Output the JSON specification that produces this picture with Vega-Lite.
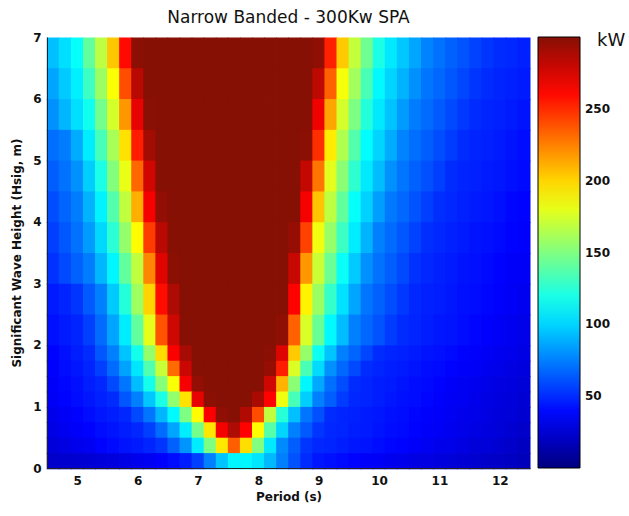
{
"$schema":"https://vega.github.io/schema/vega-lite/v6.json",
"width":483,"height":431,
"autosize":{"type":"none"},
"padding":{"left":47,"top":37,"right":99,"bottom":48},
"background":"white",
"title":{"text":"Narrow Banded - 300Kw SPA","fontSize":17,"fontWeight":"normal","font":"DejaVu Sans","color":"#111","frame":"group","anchor":"middle","offset":4},
"config":{"font":"DejaVu Sans","view":{"stroke":null}},
"datasets":{
"lab":[{"u":"kW"}],
"hi":[
{"t":4.5,"h":6.5,"v":94},{"t":4.7,"h":6.5,"v":103},{"t":4.9,"h":6.5,"v":114},{"t":5.1,"h":6.5,"v":141},{"t":5.3,"h":6.5,"v":168},{"t":5.5,"h":6.5,"v":204},{"t":5.7,"h":6.5,"v":260},{"t":5.9,"h":6.5,"v":298},{"t":6.1,"h":6.5,"v":300},{"t":6.3,"h":6.5,"v":300},{"t":6.5,"h":6.5,"v":300},{"t":6.7,"h":6.5,"v":300},{"t":6.9,"h":6.5,"v":300},{"t":7.1,"h":6.5,"v":300},{"t":7.3,"h":6.5,"v":300},{"t":7.5,"h":6.5,"v":300},{"t":7.7,"h":6.5,"v":300},{"t":7.9,"h":6.5,"v":300},{"t":8.1,"h":6.5,"v":300},{"t":8.3,"h":6.5,"v":300},{"t":8.5,"h":6.5,"v":300},{"t":8.7,"h":6.5,"v":300},{"t":8.9,"h":6.5,"v":297},{"t":9.1,"h":6.5,"v":253},{"t":9.3,"h":6.5,"v":203},{"t":9.5,"h":6.5,"v":170},{"t":9.7,"h":6.5,"v":145},{"t":9.9,"h":6.5,"v":120},{"t":10.1,"h":6.5,"v":106},{"t":10.3,"h":6.5,"v":96},{"t":10.5,"h":6.5,"v":86},{"t":10.7,"h":6.5,"v":76},{"t":10.9,"h":6.5,"v":71},{"t":11.1,"h":6.5,"v":66},{"t":11.3,"h":6.5,"v":62},{"t":11.5,"h":6.5,"v":57},{"t":11.7,"h":6.5,"v":53},{"t":11.9,"h":6.5,"v":50},{"t":12.1,"h":6.5,"v":49},{"t":12.3,"h":6.5,"v":47},
{"t":4.5,"h":6,"v":86},{"t":4.7,"h":6,"v":97},{"t":4.9,"h":6,"v":108},{"t":5.1,"h":6,"v":130},{"t":5.3,"h":6,"v":158},{"t":5.5,"h":6,"v":186},{"t":5.7,"h":6,"v":240},{"t":5.9,"h":6,"v":284},{"t":6.1,"h":6,"v":300},{"t":6.3,"h":6,"v":300},{"t":6.5,"h":6,"v":300},{"t":6.7,"h":6,"v":300},{"t":6.9,"h":6,"v":300},{"t":7.1,"h":6,"v":300},{"t":7.3,"h":6,"v":300},{"t":7.5,"h":6,"v":300},{"t":7.7,"h":6,"v":300},{"t":7.9,"h":6,"v":300},{"t":8.1,"h":6,"v":300},{"t":8.3,"h":6,"v":300},{"t":8.5,"h":6,"v":300},{"t":8.7,"h":6,"v":300},{"t":8.9,"h":6,"v":283},{"t":9.1,"h":6,"v":234},{"t":9.3,"h":6,"v":185},{"t":9.5,"h":6,"v":160},{"t":9.7,"h":6,"v":134},{"t":9.9,"h":6,"v":111},{"t":10.1,"h":6,"v":100},{"t":10.3,"h":6,"v":90},{"t":10.5,"h":6,"v":80},{"t":10.7,"h":6,"v":72},{"t":10.9,"h":6,"v":68},{"t":11.1,"h":6,"v":63},{"t":11.3,"h":6,"v":58},{"t":11.5,"h":6,"v":53},{"t":11.7,"h":6,"v":50},{"t":11.9,"h":6,"v":48},{"t":12.1,"h":6,"v":47},{"t":12.3,"h":6,"v":45},
{"t":4.5,"h":5.5,"v":80},{"t":4.7,"h":5.5,"v":91},{"t":4.9,"h":5.5,"v":103},{"t":5.1,"h":5.5,"v":117},{"t":5.3,"h":5.5,"v":146},{"t":5.5,"h":5.5,"v":175},{"t":5.7,"h":5.5,"v":218},{"t":5.9,"h":5.5,"v":270},{"t":6.1,"h":5.5,"v":299},{"t":6.3,"h":5.5,"v":300},{"t":6.5,"h":5.5,"v":300},{"t":6.7,"h":5.5,"v":300},{"t":6.9,"h":5.5,"v":300},{"t":7.1,"h":5.5,"v":300},{"t":7.3,"h":5.5,"v":300},{"t":7.5,"h":5.5,"v":300},{"t":7.7,"h":5.5,"v":300},{"t":7.9,"h":5.5,"v":300},{"t":8.1,"h":5.5,"v":300},{"t":8.3,"h":5.5,"v":300},{"t":8.5,"h":5.5,"v":300},{"t":8.7,"h":5.5,"v":300},{"t":8.9,"h":5.5,"v":267},{"t":9.1,"h":5.5,"v":214},{"t":9.3,"h":5.5,"v":175},{"t":9.5,"h":5.5,"v":149},{"t":9.7,"h":5.5,"v":123},{"t":9.9,"h":5.5,"v":106},{"t":10.1,"h":5.5,"v":95},{"t":10.3,"h":5.5,"v":83},{"t":10.5,"h":5.5,"v":74},{"t":10.7,"h":5.5,"v":69},{"t":10.9,"h":5.5,"v":64},{"t":11.1,"h":5.5,"v":59},{"t":11.3,"h":5.5,"v":54},{"t":11.5,"h":5.5,"v":50},{"t":11.7,"h":5.5,"v":48},{"t":11.9,"h":5.5,"v":47},{"t":12.1,"h":5.5,"v":45},{"t":12.3,"h":5.5,"v":43},
{"t":4.5,"h":5,"v":70},{"t":4.7,"h":5,"v":74},{"t":4.9,"h":5,"v":88},{"t":5.1,"h":5,"v":107},{"t":5.3,"h":5,"v":133},{"t":5.5,"h":5,"v":162},{"t":5.7,"h":5,"v":196},{"t":5.9,"h":5,"v":254},{"t":6.1,"h":5,"v":291},{"t":6.3,"h":5,"v":300},{"t":6.5,"h":5,"v":300},{"t":6.7,"h":5,"v":300},{"t":6.9,"h":5,"v":300},{"t":7.1,"h":5,"v":300},{"t":7.3,"h":5,"v":300},{"t":7.5,"h":5,"v":300},{"t":7.7,"h":5,"v":300},{"t":7.9,"h":5,"v":300},{"t":8.1,"h":5,"v":300},{"t":8.3,"h":5,"v":300},{"t":8.5,"h":5,"v":300},{"t":8.7,"h":5,"v":298},{"t":8.9,"h":5,"v":249},{"t":9.1,"h":5,"v":193},{"t":9.3,"h":5,"v":164},{"t":9.5,"h":5,"v":137},{"t":9.7,"h":5,"v":112},{"t":9.9,"h":5,"v":100},{"t":10.1,"h":5,"v":88},{"t":10.3,"h":5,"v":76},{"t":10.5,"h":5,"v":70},{"t":10.7,"h":5,"v":65},{"t":10.9,"h":5,"v":60},{"t":11.1,"h":5,"v":55},{"t":11.3,"h":5,"v":50},{"t":11.5,"h":5,"v":48},{"t":11.7,"h":5,"v":47},{"t":11.9,"h":5,"v":45},{"t":12.1,"h":5,"v":43},{"t":12.3,"h":5,"v":41},
{"t":4.5,"h":4.5,"v":65},{"t":4.7,"h":4.5,"v":71},{"t":4.9,"h":4.5,"v":80},{"t":5.1,"h":4.5,"v":98},{"t":5.3,"h":4.5,"v":120},{"t":5.5,"h":4.5,"v":151},{"t":5.7,"h":4.5,"v":181},{"t":5.9,"h":4.5,"v":232},{"t":6.1,"h":4.5,"v":277},{"t":6.3,"h":4.5,"v":300},{"t":6.5,"h":4.5,"v":300},{"t":6.7,"h":4.5,"v":300},{"t":6.9,"h":4.5,"v":300},{"t":7.1,"h":4.5,"v":300},{"t":7.3,"h":4.5,"v":300},{"t":7.5,"h":4.5,"v":300},{"t":7.7,"h":4.5,"v":300},{"t":7.9,"h":4.5,"v":300},{"t":8.1,"h":4.5,"v":300},{"t":8.3,"h":4.5,"v":300},{"t":8.5,"h":4.5,"v":300},{"t":8.7,"h":4.5,"v":281},{"t":8.9,"h":4.5,"v":228},{"t":9.1,"h":4.5,"v":179},{"t":9.3,"h":4.5,"v":153},{"t":9.5,"h":4.5,"v":126},{"t":9.7,"h":4.5,"v":106},{"t":9.9,"h":4.5,"v":93},{"t":10.1,"h":4.5,"v":80},{"t":10.3,"h":4.5,"v":72},{"t":10.5,"h":4.5,"v":66},{"t":10.7,"h":4.5,"v":61},{"t":10.9,"h":4.5,"v":56},{"t":11.1,"h":4.5,"v":50},{"t":11.3,"h":4.5,"v":48},{"t":11.5,"h":4.5,"v":47},{"t":11.7,"h":4.5,"v":45},{"t":11.9,"h":4.5,"v":44},{"t":12.1,"h":4.5,"v":42},{"t":12.3,"h":4.5,"v":40},
{"t":4.5,"h":4,"v":60},{"t":4.7,"h":4,"v":67},{"t":4.9,"h":4,"v":74},{"t":5.1,"h":4,"v":90},{"t":5.3,"h":4,"v":109},{"t":5.5,"h":4,"v":137},{"t":5.7,"h":4,"v":169},{"t":5.9,"h":4,"v":211},{"t":6.1,"h":4,"v":266},{"t":6.3,"h":4,"v":296},{"t":6.5,"h":4,"v":300},{"t":6.7,"h":4,"v":300},{"t":6.9,"h":4,"v":300},{"t":7.1,"h":4,"v":300},{"t":7.3,"h":4,"v":300},{"t":7.5,"h":4,"v":300},{"t":7.7,"h":4,"v":300},{"t":7.9,"h":4,"v":300},{"t":8.1,"h":4,"v":300},{"t":8.3,"h":4,"v":300},{"t":8.5,"h":4,"v":300},{"t":8.7,"h":4,"v":265},{"t":8.9,"h":4,"v":205},{"t":9.1,"h":4,"v":168},{"t":9.3,"h":4,"v":141},{"t":9.5,"h":4,"v":114},{"t":9.7,"h":4,"v":99},{"t":9.9,"h":4,"v":84},{"t":10.1,"h":4,"v":73},{"t":10.3,"h":4,"v":68},{"t":10.5,"h":4,"v":62},{"t":10.7,"h":4,"v":56},{"t":10.9,"h":4,"v":51},{"t":11.1,"h":4,"v":49},{"t":11.3,"h":4,"v":47},{"t":11.5,"h":4,"v":45},{"t":11.7,"h":4,"v":44},{"t":11.9,"h":4,"v":42},{"t":12.1,"h":4,"v":39},{"t":12.3,"h":4,"v":38},
{"t":4.5,"h":3.5,"v":56},{"t":4.7,"h":3.5,"v":63},{"t":4.9,"h":3.5,"v":71},{"t":5.1,"h":3.5,"v":83},{"t":5.3,"h":3.5,"v":101},{"t":5.5,"h":3.5,"v":125},{"t":5.7,"h":3.5,"v":156},{"t":5.9,"h":3.5,"v":188},{"t":6.1,"h":3.5,"v":245},{"t":6.3,"h":3.5,"v":284},{"t":6.5,"h":3.5,"v":300},{"t":6.7,"h":3.5,"v":300},{"t":6.9,"h":3.5,"v":300},{"t":7.1,"h":3.5,"v":300},{"t":7.3,"h":3.5,"v":300},{"t":7.5,"h":3.5,"v":300},{"t":7.7,"h":3.5,"v":300},{"t":7.9,"h":3.5,"v":300},{"t":8.1,"h":3.5,"v":300},{"t":8.3,"h":3.5,"v":300},{"t":8.5,"h":3.5,"v":295},{"t":8.7,"h":3.5,"v":243},{"t":8.9,"h":3.5,"v":183},{"t":9.1,"h":3.5,"v":157},{"t":9.3,"h":3.5,"v":130},{"t":9.5,"h":3.5,"v":107},{"t":9.7,"h":3.5,"v":90},{"t":9.9,"h":3.5,"v":75},{"t":10.1,"h":3.5,"v":69},{"t":10.3,"h":3.5,"v":63},{"t":10.5,"h":3.5,"v":57},{"t":10.7,"h":3.5,"v":51},{"t":10.9,"h":3.5,"v":49},{"t":11.1,"h":3.5,"v":47},{"t":11.3,"h":3.5,"v":45},{"t":11.5,"h":3.5,"v":43},{"t":11.7,"h":3.5,"v":42},{"t":11.9,"h":3.5,"v":40},{"t":12.1,"h":3.5,"v":38},{"t":12.3,"h":3.5,"v":37},
{"t":4.5,"h":3,"v":52},{"t":4.7,"h":3,"v":59},{"t":4.9,"h":3,"v":66},{"t":5.1,"h":3,"v":74},{"t":5.3,"h":3,"v":91},{"t":5.5,"h":3,"v":110},{"t":5.7,"h":3,"v":141},{"t":5.9,"h":3,"v":169},{"t":6.1,"h":3,"v":223},{"t":6.3,"h":3,"v":272},{"t":6.5,"h":3,"v":298},{"t":6.7,"h":3,"v":300},{"t":6.9,"h":3,"v":300},{"t":7.1,"h":3,"v":300},{"t":7.3,"h":3,"v":300},{"t":7.5,"h":3,"v":300},{"t":7.7,"h":3,"v":300},{"t":7.9,"h":3,"v":300},{"t":8.1,"h":3,"v":300},{"t":8.3,"h":3,"v":300},{"t":8.5,"h":3,"v":280},{"t":8.7,"h":3,"v":218},{"t":8.9,"h":3,"v":172},{"t":9.1,"h":3,"v":144},{"t":9.3,"h":3,"v":115},{"t":9.5,"h":3,"v":97},{"t":9.7,"h":3,"v":80},{"t":9.9,"h":3,"v":71},{"t":10.1,"h":3,"v":65},{"t":10.3,"h":3,"v":59},{"t":10.5,"h":3,"v":52},{"t":10.7,"h":3,"v":49},{"t":10.9,"h":3,"v":47},{"t":11.1,"h":3,"v":45},{"t":11.3,"h":3,"v":43},{"t":11.5,"h":3,"v":42},{"t":11.7,"h":3,"v":40},{"t":11.9,"h":3,"v":38},{"t":12.1,"h":3,"v":36},{"t":12.3,"h":3,"v":35},
{"t":4.5,"h":2.5,"v":45},{"t":4.7,"h":2.5,"v":48},{"t":4.9,"h":2.5,"v":53},{"t":5.1,"h":2.5,"v":64},{"t":5.3,"h":2.5,"v":75},{"t":5.5,"h":2.5,"v":97},{"t":5.7,"h":2.5,"v":123},{"t":5.9,"h":2.5,"v":159},{"t":6.1,"h":2.5,"v":200},{"t":6.3,"h":2.5,"v":259},{"t":6.5,"h":2.5,"v":288},{"t":6.7,"h":2.5,"v":300},{"t":6.9,"h":2.5,"v":300},{"t":7.1,"h":2.5,"v":300},{"t":7.3,"h":2.5,"v":300},{"t":7.5,"h":2.5,"v":300},{"t":7.7,"h":2.5,"v":300},{"t":7.9,"h":2.5,"v":300},{"t":8.1,"h":2.5,"v":300},{"t":8.3,"h":2.5,"v":300},{"t":8.5,"h":2.5,"v":262},{"t":8.7,"h":2.5,"v":191},{"t":8.9,"h":2.5,"v":158},{"t":9.1,"h":2.5,"v":128},{"t":9.3,"h":2.5,"v":104},{"t":9.5,"h":2.5,"v":86},{"t":9.7,"h":2.5,"v":72},{"t":9.9,"h":2.5,"v":66},{"t":10.1,"h":2.5,"v":60},{"t":10.3,"h":2.5,"v":54},{"t":10.5,"h":2.5,"v":49},{"t":10.7,"h":2.5,"v":47},{"t":10.9,"h":2.5,"v":46},{"t":11.1,"h":2.5,"v":44},{"t":11.3,"h":2.5,"v":42},{"t":11.5,"h":2.5,"v":41},{"t":11.7,"h":2.5,"v":39},{"t":11.9,"h":2.5,"v":37},{"t":12.1,"h":2.5,"v":35},{"t":12.3,"h":2.5,"v":33},
{"t":4.5,"h":2,"v":42},{"t":4.7,"h":2,"v":45},{"t":4.9,"h":2,"v":48},{"t":5.1,"h":2,"v":56},{"t":5.3,"h":2,"v":69},{"t":5.5,"h":2,"v":86},{"t":5.7,"h":2,"v":107},{"t":5.9,"h":2,"v":141},{"t":6.1,"h":2,"v":180},{"t":6.3,"h":2,"v":238},{"t":6.5,"h":2,"v":278},{"t":6.7,"h":2,"v":300},{"t":6.9,"h":2,"v":300},{"t":7.1,"h":2,"v":300},{"t":7.3,"h":2,"v":300},{"t":7.5,"h":2,"v":300},{"t":7.7,"h":2,"v":300},{"t":7.9,"h":2,"v":300},{"t":8.1,"h":2,"v":300},{"t":8.3,"h":2,"v":297},{"t":8.5,"h":2,"v":234},{"t":8.7,"h":2,"v":176},{"t":8.9,"h":2,"v":143},{"t":9.1,"h":2,"v":111},{"t":9.3,"h":2,"v":93},{"t":9.5,"h":2,"v":75},{"t":9.7,"h":2,"v":68},{"t":9.9,"h":2,"v":62},{"t":10.1,"h":2,"v":55},{"t":10.3,"h":2,"v":50},{"t":10.5,"h":2,"v":48},{"t":10.7,"h":2,"v":46},{"t":10.9,"h":2,"v":44},{"t":11.1,"h":2,"v":43},{"t":11.3,"h":2,"v":41},{"t":11.5,"h":2,"v":39},{"t":11.7,"h":2,"v":37},{"t":11.9,"h":2,"v":35},{"t":12.1,"h":2,"v":33},{"t":12.3,"h":2,"v":31}
],
"lo":[
{"t":4.5,"h":1.75,"v":38},{"t":4.7,"h":1.75,"v":42},{"t":4.9,"h":1.75,"v":46},{"t":5.1,"h":1.75,"v":50},{"t":5.3,"h":1.75,"v":63},{"t":5.5,"h":1.75,"v":75},{"t":5.7,"h":1.75,"v":95},{"t":5.9,"h":1.75,"v":118},{"t":6.1,"h":1.75,"v":156},{"t":6.3,"h":1.75,"v":198},{"t":6.5,"h":1.75,"v":264},{"t":6.7,"h":1.75,"v":290},{"t":6.9,"h":1.75,"v":300},{"t":7.1,"h":1.75,"v":300},{"t":7.3,"h":1.75,"v":300},{"t":7.5,"h":1.75,"v":300},{"t":7.7,"h":1.75,"v":300},{"t":7.9,"h":1.75,"v":300},{"t":8.1,"h":1.75,"v":298},{"t":8.3,"h":1.75,"v":273},{"t":8.5,"h":1.75,"v":203},{"t":8.7,"h":1.75,"v":156},{"t":8.9,"h":1.75,"v":116},{"t":9.1,"h":1.75,"v":95},{"t":9.3,"h":1.75,"v":75},{"t":9.5,"h":1.75,"v":67},{"t":9.7,"h":1.75,"v":58},{"t":9.9,"h":1.75,"v":50},{"t":10.1,"h":1.75,"v":48},{"t":10.3,"h":1.75,"v":47},{"t":10.5,"h":1.75,"v":45},{"t":10.7,"h":1.75,"v":43},{"t":10.9,"h":1.75,"v":42},{"t":11.1,"h":1.75,"v":40},{"t":11.3,"h":1.75,"v":38},{"t":11.5,"h":1.75,"v":37},{"t":11.7,"h":1.75,"v":35},{"t":11.9,"h":1.75,"v":33},{"t":12.1,"h":1.75,"v":32},{"t":12.3,"h":1.75,"v":30},
{"t":4.5,"h":1.5,"v":37},{"t":4.7,"h":1.5,"v":41},{"t":4.9,"h":1.5,"v":44},{"t":5.1,"h":1.5,"v":48},{"t":5.3,"h":1.5,"v":56},{"t":5.5,"h":1.5,"v":69},{"t":5.7,"h":1.5,"v":85},{"t":5.9,"h":1.5,"v":105},{"t":6.1,"h":1.5,"v":136},{"t":6.3,"h":1.5,"v":171},{"t":6.5,"h":1.5,"v":231},{"t":6.7,"h":1.5,"v":279},{"t":6.9,"h":1.5,"v":300},{"t":7.1,"h":1.5,"v":300},{"t":7.3,"h":1.5,"v":300},{"t":7.5,"h":1.5,"v":300},{"t":7.7,"h":1.5,"v":300},{"t":7.9,"h":1.5,"v":300},{"t":8.1,"h":1.5,"v":295},{"t":8.3,"h":1.5,"v":254},{"t":8.5,"h":1.5,"v":177},{"t":8.7,"h":1.5,"v":134},{"t":8.9,"h":1.5,"v":102},{"t":9.1,"h":1.5,"v":80},{"t":9.3,"h":1.5,"v":68},{"t":9.5,"h":1.5,"v":59},{"t":9.7,"h":1.5,"v":50},{"t":9.9,"h":1.5,"v":48},{"t":10.1,"h":1.5,"v":46},{"t":10.3,"h":1.5,"v":45},{"t":10.5,"h":1.5,"v":43},{"t":10.7,"h":1.5,"v":41},{"t":10.9,"h":1.5,"v":40},{"t":11.1,"h":1.5,"v":38},{"t":11.3,"h":1.5,"v":36},{"t":11.5,"h":1.5,"v":35},{"t":11.7,"h":1.5,"v":33},{"t":11.9,"h":1.5,"v":31},{"t":12.1,"h":1.5,"v":29},{"t":12.3,"h":1.5,"v":28},
{"t":4.5,"h":1.25,"v":36},{"t":4.7,"h":1.25,"v":39},{"t":4.9,"h":1.25,"v":42},{"t":5.1,"h":1.25,"v":46},{"t":5.3,"h":1.25,"v":49},{"t":5.5,"h":1.25,"v":59},{"t":5.7,"h":1.25,"v":72},{"t":5.9,"h":1.25,"v":93},{"t":6.1,"h":1.25,"v":118},{"t":6.3,"h":1.25,"v":152},{"t":6.5,"h":1.25,"v":186},{"t":6.7,"h":1.25,"v":265},{"t":6.9,"h":1.25,"v":296},{"t":7.1,"h":1.25,"v":300},{"t":7.3,"h":1.25,"v":300},{"t":7.5,"h":1.25,"v":300},{"t":7.7,"h":1.25,"v":300},{"t":7.9,"h":1.25,"v":300},{"t":8.1,"h":1.25,"v":277},{"t":8.3,"h":1.25,"v":210},{"t":8.5,"h":1.25,"v":153},{"t":8.7,"h":1.25,"v":110},{"t":8.9,"h":1.25,"v":87},{"t":9.1,"h":1.25,"v":70},{"t":9.3,"h":1.25,"v":60},{"t":9.5,"h":1.25,"v":50},{"t":9.7,"h":1.25,"v":48},{"t":9.9,"h":1.25,"v":46},{"t":10.1,"h":1.25,"v":45},{"t":10.3,"h":1.25,"v":43},{"t":10.5,"h":1.25,"v":41},{"t":10.7,"h":1.25,"v":40},{"t":10.9,"h":1.25,"v":38},{"t":11.1,"h":1.25,"v":36},{"t":11.3,"h":1.25,"v":34},{"t":11.5,"h":1.25,"v":33},{"t":11.7,"h":1.25,"v":31},{"t":11.9,"h":1.25,"v":29},{"t":12.1,"h":1.25,"v":28},{"t":12.3,"h":1.25,"v":26},
{"t":4.5,"h":1,"v":35},{"t":4.7,"h":1,"v":38},{"t":4.9,"h":1,"v":41},{"t":5.1,"h":1,"v":44},{"t":5.3,"h":1,"v":47},{"t":5.5,"h":1,"v":50},{"t":5.7,"h":1,"v":63},{"t":5.9,"h":1,"v":75},{"t":6.1,"h":1,"v":96},{"t":6.3,"h":1,"v":120},{"t":6.5,"h":1,"v":155},{"t":6.7,"h":1,"v":196},{"t":6.9,"h":1,"v":270},{"t":7.1,"h":1,"v":298},{"t":7.3,"h":1,"v":300},{"t":7.5,"h":1,"v":300},{"t":7.7,"h":1,"v":300},{"t":7.9,"h":1,"v":289},{"t":8.1,"h":1,"v":262},{"t":8.3,"h":1,"v":183},{"t":8.5,"h":1,"v":133},{"t":8.7,"h":1,"v":98},{"t":8.9,"h":1,"v":75},{"t":9.1,"h":1,"v":65},{"t":9.3,"h":1,"v":55},{"t":9.5,"h":1,"v":49},{"t":9.7,"h":1,"v":48},{"t":9.9,"h":1,"v":46},{"t":10.1,"h":1,"v":44},{"t":10.3,"h":1,"v":42},{"t":10.5,"h":1,"v":41},{"t":10.7,"h":1,"v":39},{"t":10.9,"h":1,"v":37},{"t":11.1,"h":1,"v":35},{"t":11.3,"h":1,"v":34},{"t":11.5,"h":1,"v":32},{"t":11.7,"h":1,"v":30},{"t":11.9,"h":1,"v":28},{"t":12.1,"h":1,"v":27},{"t":12.3,"h":1,"v":25},
{"t":4.5,"h":0.75,"v":32},{"t":4.7,"h":0.75,"v":35},{"t":4.9,"h":0.75,"v":38},{"t":5.1,"h":0.75,"v":41},{"t":5.3,"h":0.75,"v":44},{"t":5.5,"h":0.75,"v":46},{"t":5.7,"h":0.75,"v":49},{"t":5.9,"h":0.75,"v":59},{"t":6.1,"h":0.75,"v":72},{"t":6.3,"h":0.75,"v":91},{"t":6.5,"h":0.75,"v":111},{"t":6.7,"h":0.75,"v":149},{"t":6.9,"h":0.75,"v":188},{"t":7.1,"h":0.75,"v":264},{"t":7.3,"h":0.75,"v":297},{"t":7.5,"h":0.75,"v":300},{"t":7.7,"h":0.75,"v":287},{"t":7.9,"h":0.75,"v":240},{"t":8.1,"h":0.75,"v":169},{"t":8.3,"h":0.75,"v":124},{"t":8.5,"h":0.75,"v":94},{"t":8.7,"h":0.75,"v":72},{"t":8.9,"h":0.75,"v":61},{"t":9.1,"h":0.75,"v":50},{"t":9.3,"h":0.75,"v":48},{"t":9.5,"h":0.75,"v":47},{"t":9.7,"h":0.75,"v":45},{"t":9.9,"h":0.75,"v":44},{"t":10.1,"h":0.75,"v":42},{"t":10.3,"h":0.75,"v":41},{"t":10.5,"h":0.75,"v":39},{"t":10.7,"h":0.75,"v":37},{"t":10.9,"h":0.75,"v":36},{"t":11.1,"h":0.75,"v":34},{"t":11.3,"h":0.75,"v":32},{"t":11.5,"h":0.75,"v":31},{"t":11.7,"h":0.75,"v":29},{"t":11.9,"h":0.75,"v":27},{"t":12.1,"h":0.75,"v":26},{"t":12.3,"h":0.75,"v":24},
{"t":4.5,"h":0.5,"v":30},{"t":4.7,"h":0.5,"v":33},{"t":4.9,"h":0.5,"v":36},{"t":5.1,"h":0.5,"v":38},{"t":5.3,"h":0.5,"v":41},{"t":5.5,"h":0.5,"v":43},{"t":5.7,"h":0.5,"v":46},{"t":5.9,"h":0.5,"v":49},{"t":6.1,"h":0.5,"v":56},{"t":6.3,"h":0.5,"v":69},{"t":6.5,"h":0.5,"v":86},{"t":6.7,"h":0.5,"v":107},{"t":6.9,"h":0.5,"v":147},{"t":7.1,"h":0.5,"v":195},{"t":7.3,"h":0.5,"v":266},{"t":7.5,"h":0.5,"v":288},{"t":7.7,"h":0.5,"v":262},{"t":7.9,"h":0.5,"v":188},{"t":8.1,"h":0.5,"v":138},{"t":8.3,"h":0.5,"v":100},{"t":8.5,"h":0.5,"v":75},{"t":8.7,"h":0.5,"v":64},{"t":8.9,"h":0.5,"v":53},{"t":9.1,"h":0.5,"v":49},{"t":9.3,"h":0.5,"v":48},{"t":9.5,"h":0.5,"v":46},{"t":9.7,"h":0.5,"v":45},{"t":9.9,"h":0.5,"v":43},{"t":10.1,"h":0.5,"v":41},{"t":10.3,"h":0.5,"v":40},{"t":10.5,"h":0.5,"v":38},{"t":10.7,"h":0.5,"v":36},{"t":10.9,"h":0.5,"v":35},{"t":11.1,"h":0.5,"v":33},{"t":11.3,"h":0.5,"v":31},{"t":11.5,"h":0.5,"v":30},{"t":11.7,"h":0.5,"v":28},{"t":11.9,"h":0.5,"v":26},{"t":12.1,"h":0.5,"v":24},{"t":12.3,"h":0.5,"v":22},
{"t":4.5,"h":0.25,"v":27},{"t":4.7,"h":0.25,"v":29},{"t":4.9,"h":0.25,"v":32},{"t":5.1,"h":0.25,"v":34},{"t":5.3,"h":0.25,"v":38},{"t":5.5,"h":0.25,"v":40},{"t":5.7,"h":0.25,"v":43},{"t":5.9,"h":0.25,"v":45},{"t":6.1,"h":0.25,"v":48},{"t":6.3,"h":0.25,"v":53},{"t":6.5,"h":0.25,"v":66},{"t":6.7,"h":0.25,"v":81},{"t":6.9,"h":0.25,"v":107},{"t":7.1,"h":0.25,"v":149},{"t":7.3,"h":0.25,"v":194},{"t":7.5,"h":0.25,"v":235},{"t":7.7,"h":0.25,"v":197},{"t":7.9,"h":0.25,"v":150},{"t":8.1,"h":0.25,"v":106},{"t":8.3,"h":0.25,"v":78},{"t":8.5,"h":0.25,"v":65},{"t":8.7,"h":0.25,"v":53},{"t":8.9,"h":0.25,"v":49},{"t":9.1,"h":0.25,"v":48},{"t":9.3,"h":0.25,"v":46},{"t":9.5,"h":0.25,"v":44},{"t":9.7,"h":0.25,"v":43},{"t":9.9,"h":0.25,"v":41},{"t":10.1,"h":0.25,"v":39},{"t":10.3,"h":0.25,"v":38},{"t":10.5,"h":0.25,"v":36},{"t":10.7,"h":0.25,"v":34},{"t":10.9,"h":0.25,"v":32},{"t":11.1,"h":0.25,"v":31},{"t":11.3,"h":0.25,"v":29},{"t":11.5,"h":0.25,"v":27},{"t":11.7,"h":0.25,"v":26},{"t":11.9,"h":0.25,"v":24},{"t":12.1,"h":0.25,"v":22},{"t":12.3,"h":0.25,"v":20},
{"t":4.5,"h":0,"v":22},{"t":4.7,"h":0,"v":23},{"t":4.9,"h":0,"v":24},{"t":5.1,"h":0,"v":25},{"t":5.3,"h":0,"v":27},{"t":5.5,"h":0,"v":28},{"t":5.7,"h":0,"v":30},{"t":5.9,"h":0,"v":32},{"t":6.1,"h":0,"v":34},{"t":6.3,"h":0,"v":37},{"t":6.5,"h":0,"v":41},{"t":6.7,"h":0,"v":46},{"t":6.9,"h":0,"v":56},{"t":7.1,"h":0,"v":75},{"t":7.3,"h":0,"v":95},{"t":7.5,"h":0,"v":110},{"t":7.7,"h":0,"v":110},{"t":7.9,"h":0,"v":105},{"t":8.1,"h":0,"v":92},{"t":8.3,"h":0,"v":75},{"t":8.5,"h":0,"v":62},{"t":8.7,"h":0,"v":50},{"t":8.9,"h":0,"v":44},{"t":9.1,"h":0,"v":42},{"t":9.3,"h":0,"v":40},{"t":9.5,"h":0,"v":38},{"t":9.7,"h":0,"v":36},{"t":9.9,"h":0,"v":35},{"t":10.1,"h":0,"v":33},{"t":10.3,"h":0,"v":32},{"t":10.5,"h":0,"v":30},{"t":10.7,"h":0,"v":29},{"t":10.9,"h":0,"v":28},{"t":11.1,"h":0,"v":26},{"t":11.3,"h":0,"v":25},{"t":11.5,"h":0,"v":24},{"t":11.7,"h":0,"v":22},{"t":11.9,"h":0,"v":21},{"t":12.1,"h":0,"v":20},{"t":12.3,"h":0,"v":18}
]},
"layer":[
{"data":{"name":"hi"},
 "mark":{"type":"rect","binSpacing":0,"x2Offset":-0.8,"y2Offset":0.8},
 "encoding":{
  "x":{"field":"t","type":"quantitative","bin":{"binned":true,"step":0.2},"scale":{"domain":[4.5,12.5],"nice":false,"zero":false},
       "axis":{"title":"Period (s)","values":[5,6,7,8,9,10,11,12],"format":"d","ticks":false,"grid":false,"labelFontWeight":"bold","labelFontSize":12,"labelColor":"#111","labelPadding":7,"titleFontWeight":"bold","titleFontSize":12,"titleColor":"#111","titlePadding":5,"domainColor":"#222"}},
  "y":{"field":"h","type":"quantitative","bin":{"binned":true,"step":0.5},"scale":{"domain":[0,7],"nice":false,"zero":false},
       "axis":{"title":"Significant Wave Height (Hsig, m)","values":[0,1,2,3,4,5,6,7],"format":"d","ticks":false,"grid":false,"labelFontWeight":"bold","labelFontSize":12,"labelColor":"#111","labelPadding":6,"titleFontWeight":"bold","titleFontSize":12,"titleColor":"#111","titlePadding":9,"domainColor":"#222"}},
  "color":{"field":"v","type":"quantitative","scale":{"type":"linear","domain":[0,37.5,112.5,187.5,262.5,300],"range":["#00007f","#0000ff","#00ffff","#ffff00","#ff0000","#861004"],"interpolate":"rgb","clamp":true},
       "legend":{"type":"gradient","title":null,"orient":"right","offset":8,"padding":0,"direction":"vertical","gradientLength":431,"gradientThickness":42,"gradientStrokeColor":"#000","gradientStrokeWidth":1,"values":[50,100,150,200,250],"labelFont":"DejaVu Sans","labelFontSize":12,"labelFontWeight":"bold","labelColor":"#111","labelOffset":5,"labelOverlap":false}}
 }},
{"data":{"name":"lo"},
 "mark":{"type":"rect","binSpacing":0,"x2Offset":-0.8,"y2Offset":0.8},
 "encoding":{
  "x":{"field":"t","type":"quantitative","bin":{"binned":true,"step":0.2},"scale":{"domain":[4.5,12.5],"nice":false,"zero":false},
       "axis":{"title":"Period (s)","values":[5,6,7,8,9,10,11,12],"format":"d","ticks":false,"grid":false,"labelFontWeight":"bold","labelFontSize":12,"labelColor":"#111","labelPadding":7,"titleFontWeight":"bold","titleFontSize":12,"titleColor":"#111","titlePadding":5,"domainColor":"#222"}},
  "y":{"field":"h","type":"quantitative","bin":{"binned":true,"step":0.25},"scale":{"domain":[0,7],"nice":false,"zero":false},
       "axis":{"title":"Significant Wave Height (Hsig, m)","values":[0,1,2,3,4,5,6,7],"format":"d","ticks":false,"grid":false,"labelFontWeight":"bold","labelFontSize":12,"labelColor":"#111","labelPadding":6,"titleFontWeight":"bold","titleFontSize":12,"titleColor":"#111","titlePadding":9,"domainColor":"#222"}},
  "color":{"field":"v","type":"quantitative","scale":{"type":"linear","domain":[0,37.5,112.5,187.5,262.5,300],"range":["#00007f","#0000ff","#00ffff","#ffff00","#ff0000","#861004"],"interpolate":"rgb","clamp":true},
       "legend":{"type":"gradient","title":null,"orient":"right","offset":8,"padding":0,"direction":"vertical","gradientLength":431,"gradientThickness":42,"gradientStrokeColor":"#000","gradientStrokeWidth":1,"values":[50,100,150,200,250],"labelFont":"DejaVu Sans","labelFontSize":12,"labelFontWeight":"bold","labelColor":"#111","labelOffset":5,"labelOverlap":false}}
 }},
{"data":{"name":"lab"},
 "mark":{"type":"text","align":"left","baseline":"alphabetic","fontSize":18,"font":"DejaVu Sans","color":"#111"},
 "encoding":{"x":{"datum":13.61,"type":"quantitative"},"y":{"datum":6.85,"type":"quantitative"},"text":{"field":"u"}}}
]
}
